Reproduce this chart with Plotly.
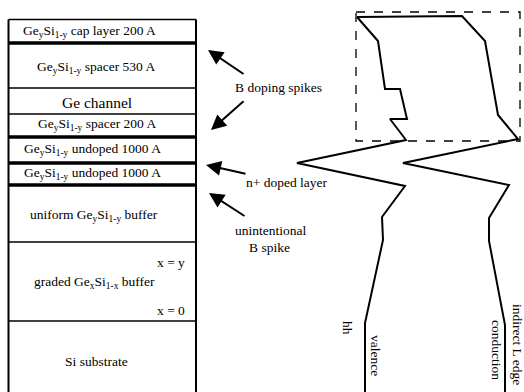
import plotly.graph_objects as go

W, H = 524, 392

# Layer stack (left panel)
box_left, box_right = 8.5, 196
box_top = 19.5
thin_lines_y = [88, 114, 242, 321]
thick_lines_y = [43, 137, 163, 185]

layer_labels = [
    "Ge<sub>y</sub>Si<sub>1-y</sub> cap layer 200 A",
    "Ge<sub>y</sub>Si<sub>1-y</sub> spacer 530 A",
    "Ge channel",
    "Ge<sub>y</sub>Si<sub>1-y</sub> spacer 200 A",
    "Ge<sub>y</sub>Si<sub>1-y</sub> undoped 1000 A",
    "Ge<sub>y</sub>Si<sub>1-y</sub> undoped 1000 A",
    "uniform Ge<sub>y</sub>Si<sub>1-y</sub> buffer",
    "graded Ge<sub>x</sub>Si<sub>1-x</sub> buffer",
    "Si substrate",
]
layer_label_x = [89, 96, 97, 97, 92, 92, 94, 94, 96]
layer_label_y = [31, 67, 102, 124, 149, 173, 215, 282, 361]
layer_label_size = [13.5, 13.5, 15.5, 13.5, 13.5, 13.5, 13.5, 13.5, 13.5]

grade_labels = ["x = y", "x = 0"]
grade_label_y = [262, 310]

# Band profiles (right panel)
valence_x = [357, 378, 385, 400, 407, 390, 406, 297, 405, 382, 383, 365, 365]
valence_y = [17, 41, 89, 89, 119, 119, 140, 163, 186, 217, 240, 323, 400]
conduction_x = [357, 462, 485, 498, 518, 403, 509, 489, 489, 505, 505]
conduction_y = [17, 16, 41, 115, 139, 163, 185, 218, 241, 325, 400]

# Arrow annotations: tails -> heads
arrow_tails = [(245, 75), (245, 100), (247, 174), (246, 217)]
arrow_heads = [(208, 50), (211, 130), (206, 165), (209, 193)]

fig = go.Figure()

fig.add_trace(go.Scatter(x=valence_x, y=valence_y, mode="lines",
                         line=dict(color="black", width=2), hoverinfo="skip"))
fig.add_trace(go.Scatter(x=conduction_x, y=conduction_y, mode="lines",
                         line=dict(color="black", width=2), hoverinfo="skip"))

shapes = []
shapes.append(dict(type="line", x0=box_left, x1=box_left, y0=box_top, y1=H + 10,
                   line=dict(color="black", width=2)))
shapes.append(dict(type="line", x0=box_right, x1=box_right, y0=box_top, y1=H + 10,
                   line=dict(color="black", width=2)))
shapes.append(dict(type="line", x0=box_left, x1=box_right, y0=box_top, y1=box_top,
                   line=dict(color="black", width=1.5)))
for y in thin_lines_y:
    shapes.append(dict(type="line", x0=box_left, x1=box_right, y0=y, y1=y,
                       line=dict(color="black", width=1.5)))
for y in thick_lines_y:
    shapes.append(dict(type="line", x0=box_left, x1=box_right, y0=y, y1=y,
                       line=dict(color="black", width=3.5)))
shapes.append(dict(type="rect", x0=356, x1=520, y0=12, y1=141,
                   line=dict(color="black", width=1.3, dash="dash")))

font = "Liberation Serif"
ann = []
for t, x, y, s in zip(layer_labels, layer_label_x, layer_label_y, layer_label_size):
    ann.append(dict(x=x, y=y, text=t, showarrow=False, xanchor="center", yanchor="middle",
                    font=dict(family=font, size=s, color="black")))
for t, y in zip(grade_labels, grade_label_y):
    ann.append(dict(x=187, y=y, text=t, showarrow=False, xanchor="right", yanchor="middle",
                    font=dict(family=font, size=13.5, color="black")))

side_texts = [("B doping spikes", 278, 87), ("n+ doped layer", 287, 182),
              ("unintentional", 270, 230), ("B spike", 269, 247)]
for t, x, y in side_texts:
    ann.append(dict(x=x, y=y, text=t, showarrow=False, xanchor="center", yanchor="middle",
                    font=dict(family=font, size=13.5, color="black")))

for (tx, ty), (hx, hy) in zip(arrow_tails, arrow_heads):
    ann.append(dict(x=hx, y=hy, ax=tx, ay=ty, axref="x", ayref="y", xref="x", yref="y",
                    text="", showarrow=True, arrowhead=2, arrowsize=1.5, arrowwidth=2,
                    arrowcolor="black"))

rot_texts = [("hh", 348, 328), ("valence", 376, 355), ("conduction", 497, 350),
             ("indirect L edge", 518, 344)]
for t, x, y in rot_texts:
    ann.append(dict(x=x, y=y, text=t, showarrow=False, textangle=90,
                    xanchor="center", yanchor="middle",
                    font=dict(family=font, size=13.5, color="black")))

fig.update_layout(
    width=W, height=H, margin=dict(l=0, r=0, t=0, b=0),
    paper_bgcolor="white", plot_bgcolor="white", showlegend=False,
    xaxis=dict(range=[0, W], visible=False, fixedrange=True),
    yaxis=dict(range=[H, 0], visible=False, fixedrange=True),
    shapes=shapes, annotations=ann,
)
fig.write_html("out.html")
